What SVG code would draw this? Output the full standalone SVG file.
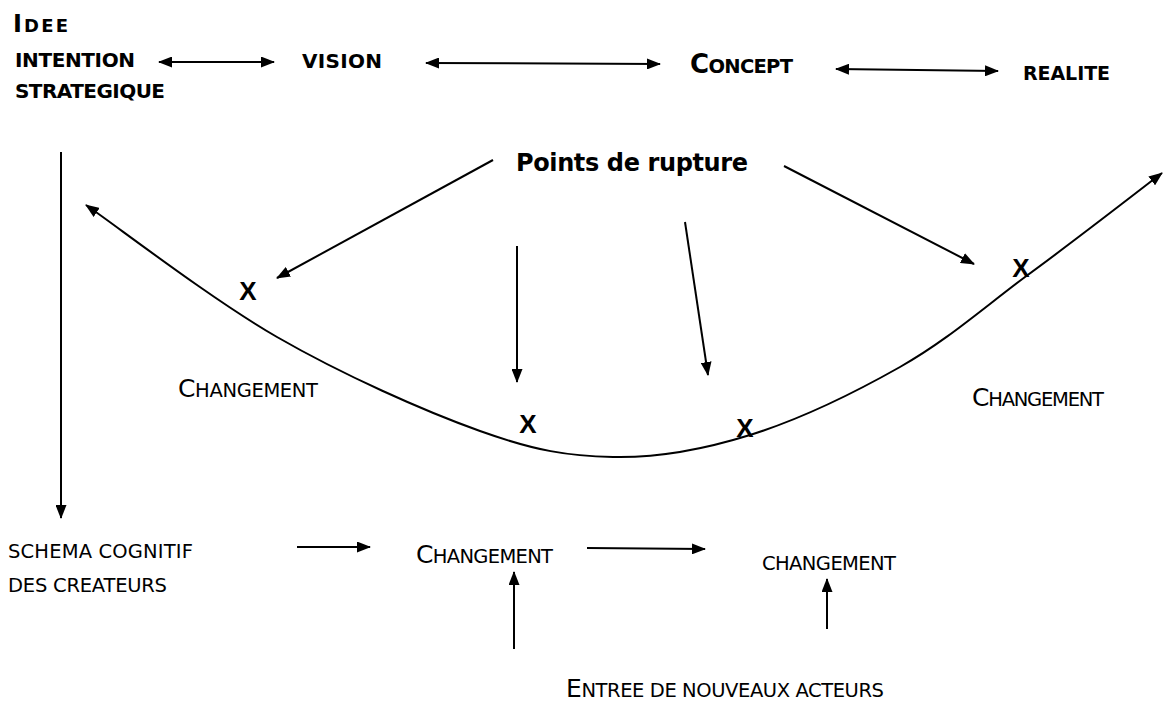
<svg xmlns="http://www.w3.org/2000/svg" width="1164" height="703" viewBox="0 0 1164 703">
<style>
.b{font-family:"DejaVu Sans",Verdana,sans-serif;font-weight:bold;fill:#000}
.r{font-family:"DejaVu Sans",Verdana,sans-serif;fill:#000}
.x{font-family:"Liberation Sans",Arial,sans-serif;font-weight:bold;font-size:26px;fill:#000}
.ln{stroke:#000;stroke-width:2;fill:none}
</style>
<defs>
<marker id="ah" viewBox="0 0 14 11" refX="13" refY="5.5" markerWidth="14" markerHeight="11" markerUnits="userSpaceOnUse" orient="auto-start-reverse">
<path d="M0,0 L14,5.5 L0,11 z" fill="#000"/>
</marker>
</defs>
<rect width="1164" height="703" fill="#fff"/>
<g id="n-idee"><text class="b" x="13" y="32" textLength="55" font-size="18"><tspan font-size="24">I</tspan>DEE</text>
<text class="b" x="15" y="67" font-size="20" textLength="120">INTENTION</text>
<text class="b" x="15" y="98" font-size="20" textLength="150">STRATEGIQUE</text></g>
<g id="n-vision"><text class="b" x="302" y="68" font-size="20" textLength="80">VISION</text></g>
<g id="n-concept"><text class="b" x="690" y="73" font-size="19.5" textLength="103"><tspan font-size="26">C</tspan>ONCEPT</text></g>
<g id="n-realite"><text class="b" x="1023" y="80" font-size="19" textLength="87">REALITE</text></g>
<g id="n-rupture"><text class="b" x="516" y="171" font-size="24" textLength="232">Points de rupture</text></g>
<g id="n-chg-left"><text class="r" x="178" y="397" font-size="19.5" textLength="140"><tspan font-size="25">C</tspan>HANGEMENT</text></g>
<g id="n-chg-right"><text class="r" x="972" y="406" font-size="19.5" textLength="132"><tspan font-size="25">C</tspan>HANGEMENT</text></g>
<g id="n-schema"><text class="r" x="8" y="558" font-size="19.5" textLength="185">SCHEMA COGNITIF</text>
<text class="r" x="8" y="592" font-size="19.5" textLength="159">DES CREATEURS</text></g>
<g id="n-chg-mid"><text class="r" x="416" y="563" font-size="19.5" textLength="137"><tspan font-size="25">C</tspan>HANGEMENT</text></g>
<g id="n-chg-end"><text class="r" x="762" y="570" font-size="19.5" textLength="134">CHANGEMENT</text></g>
<g id="n-entree"><text class="r" x="566" y="697" font-size="19.5" textLength="318"><tspan font-size="25">E</tspan>NTREE DE NOUVEAUX ACTEURS</text></g>
<g id="n-x1"><text class="x" x="248" y="300" text-anchor="middle">X</text></g>
<g id="n-x2"><text class="x" x="528" y="433" text-anchor="middle">X</text></g>
<g id="n-x3"><text class="x" x="745" y="437" text-anchor="middle">X</text></g>
<g id="n-x4"><text class="x" x="1021" y="277" text-anchor="middle">X</text></g>
<g id="connectors" class="ln">
<line x1="159" y1="62" x2="274" y2="62" marker-start="url(#ah)" marker-end="url(#ah)"/>
<line x1="426" y1="63" x2="660" y2="64" marker-start="url(#ah)" marker-end="url(#ah)"/>
<line x1="836" y1="69" x2="998" y2="71" marker-start="url(#ah)" marker-end="url(#ah)"/>
<line x1="61" y1="152" x2="61" y2="518" marker-end="url(#ah)"/>
<line x1="493" y1="160" x2="277" y2="278" marker-end="url(#ah)"/>
<line x1="517" y1="246" x2="517" y2="382" marker-end="url(#ah)"/>
<line x1="685" y1="222" x2="708" y2="375" marker-end="url(#ah)"/>
<line x1="784" y1="166" x2="974" y2="264" marker-end="url(#ah)"/>
<path d="M86,205 C118,227 211,299 277,337 C343,375 424,411 480,431 C536,451 568,456 613,457 C658,458 702,450 750,435 C798,420 854,393 900,367 C946,341 981,310 1025,277 C1069,245 1140,190 1162,173" marker-start="url(#ah)" marker-end="url(#ah)"/>
<line x1="297" y1="547" x2="370" y2="547" marker-end="url(#ah)"/>
<line x1="587" y1="548" x2="705" y2="549" marker-end="url(#ah)"/>
<line x1="514" y1="649" x2="514" y2="572" marker-end="url(#ah)"/>
<line x1="827" y1="629" x2="827" y2="579" marker-end="url(#ah)"/>
</g>
</svg>
